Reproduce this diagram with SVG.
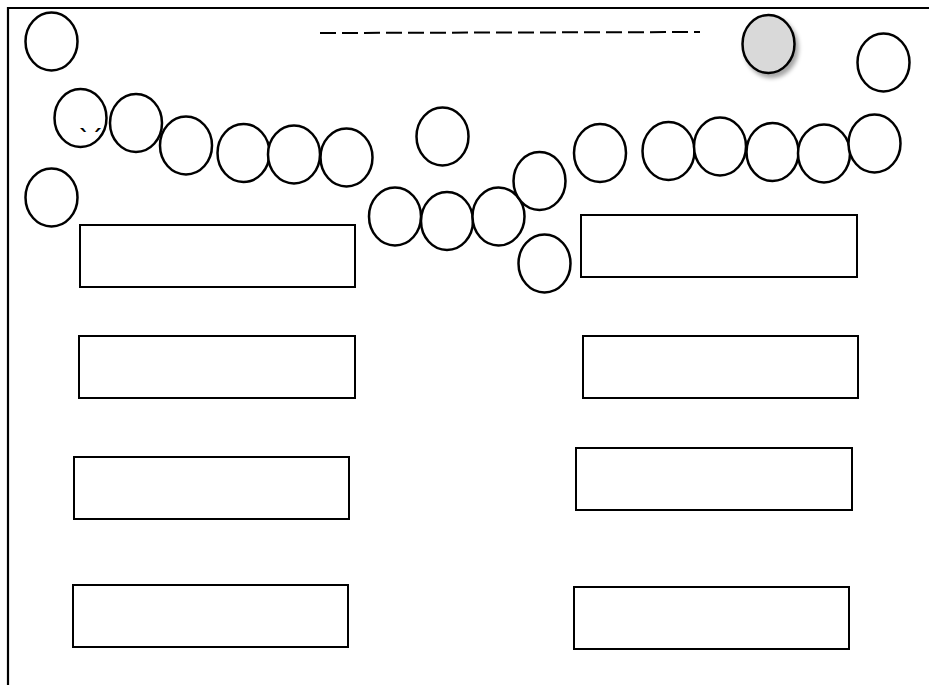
<svg xmlns="http://www.w3.org/2000/svg" width="929" height="686" viewBox="0 0 929 686">
  <style>
    .frame { fill: none; stroke: #000; stroke-width: 2.2; }
    .dash { fill: none; stroke: #000; stroke-width: 2; stroke-dasharray: 16 6; }
    .node ellipse { fill: #fff; stroke: #000; stroke-width: 2.5; }
    .node rect { fill: #fff; stroke: #000; stroke-width: 2; }
    .node ellipse.shaded { fill: #d9d9d9; filter: url(#shadow); }
    .mark { font-family: "DejaVu Sans", sans-serif; font-size: 22px; font-weight: bold; fill: #000; letter-spacing: 1px; }
  </style>
  <defs>
    <filter id="shadow" x="-30%" y="-30%" width="170%" height="170%">
      <feDropShadow dx="3" dy="4" stdDeviation="2" flood-color="#000" flood-opacity="0.35"/>
    </filter>
  </defs>

  <rect width="929" height="686" fill="#fff"/>

  <!-- page border: top and left edges -->
  <g id="frame">
    <path class="frame" d="M929 8 H8 V685"/>
  </g>

  <g id="connectors">
    <line class="dash" x1="320" y1="33" x2="700" y2="32"/>
  </g>

  <!-- circles -->
  <g id="c1" class="node"><ellipse cx="51.5" cy="41.5" rx="26" ry="29"/></g>
  <g id="c2" class="node"><ellipse cx="80.5" cy="118" rx="26" ry="29"/><text class="mark" x="91" y="127" text-anchor="middle">ˎˏ</text></g>
  <g id="c3" class="node"><ellipse cx="136" cy="123" rx="26" ry="29"/></g>
  <g id="c4" class="node"><ellipse cx="51.5" cy="197.5" rx="26" ry="29"/></g>
  <g id="c5" class="node"><ellipse cx="186" cy="145.5" rx="26" ry="29"/></g>
  <g id="c6" class="node"><ellipse cx="243.5" cy="153" rx="26" ry="29"/></g>
  <g id="c7" class="node"><ellipse cx="294" cy="154.5" rx="26" ry="29"/></g>
  <g id="c8" class="node"><ellipse cx="346.5" cy="157.5" rx="26" ry="29"/></g>
  <g id="c9" class="node"><ellipse cx="442.5" cy="136.5" rx="26" ry="29"/></g>
  <g id="c10" class="node"><ellipse cx="395" cy="216.5" rx="26" ry="29"/></g>
  <g id="c11" class="node"><ellipse cx="447" cy="221" rx="26" ry="29"/></g>
  <g id="c12" class="node"><ellipse cx="498.5" cy="216.5" rx="26" ry="29"/></g>
  <g id="c13" class="node"><ellipse cx="539.5" cy="181" rx="26" ry="29"/></g>
  <g id="c14" class="node"><ellipse cx="544.5" cy="263.5" rx="26" ry="29"/></g>
  <g id="c15" class="node"><ellipse cx="600" cy="153" rx="26" ry="29"/></g>
  <g id="c16" class="node"><ellipse cx="668.5" cy="151" rx="26" ry="29"/></g>
  <g id="c17" class="node"><ellipse cx="720" cy="146.5" rx="26" ry="29"/></g>
  <g id="c18" class="node"><ellipse cx="772.5" cy="152" rx="26" ry="29"/></g>
  <g id="c19" class="node"><ellipse cx="824" cy="153.5" rx="26" ry="29"/></g>
  <g id="c20" class="node"><ellipse cx="874.5" cy="143.5" rx="26" ry="29"/></g>
  <g id="c21" class="node"><ellipse class="shaded" cx="768.5" cy="44" rx="26" ry="29"/></g>
  <g id="c22" class="node"><ellipse cx="883.5" cy="62.5" rx="26" ry="29"/></g>

  <!-- boxes, left column -->
  <g id="b1" class="node"><rect x="80" y="225" width="275" height="62"/></g>
  <g id="b2" class="node"><rect x="79" y="336" width="276" height="62"/></g>
  <g id="b3" class="node"><rect x="74" y="457" width="275" height="62"/></g>
  <g id="b4" class="node"><rect x="73" y="585" width="275" height="62"/></g>

  <!-- boxes, right column -->
  <g id="b5" class="node"><rect x="581" y="215" width="276" height="62"/></g>
  <g id="b6" class="node"><rect x="583" y="336" width="275" height="62"/></g>
  <g id="b7" class="node"><rect x="576" y="448" width="276" height="62"/></g>
  <g id="b8" class="node"><rect x="574" y="587" width="275" height="62"/></g>
</svg>
